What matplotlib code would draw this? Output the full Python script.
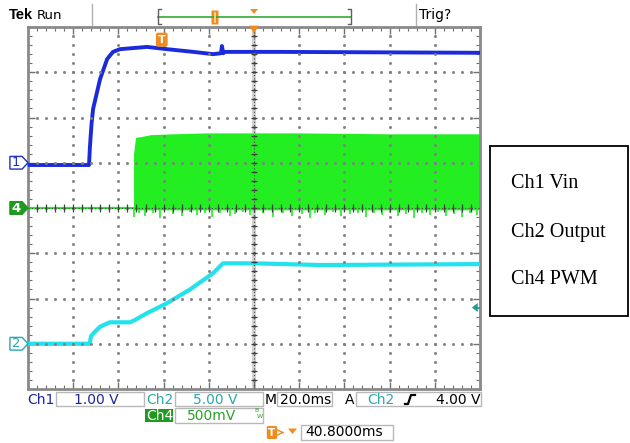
import numpy as np
import matplotlib.pyplot as plt
from matplotlib.patches import Polygon, Rectangle, FancyBboxPatch

# scope setup: 20 ms/div, trigger delay 40.8 ms -> left edge of screen
ms_div = 20.0
t_left = 40.8 - 5 * ms_div
ch1_scale, ch1_pos = 1.0, 5.0
ch2_scale, ch2_pos = 5.0, 1.0
ch4_scale, ch4_pos = 0.5, 4.0
trig_level = 4.0

# Ch1 Vin (V) vs time (ms)
ch1_t = [-59.2, -32.2, -31.8, -31.1, -30.4, -27.3, -24.2, -21.6, -18.5, -6.5, 2.3,
         14.0, 22.7, 26.2, 26.6, 27.2, 28.0, 52.3, 140.8]
ch1_v = [-0.05, -0.05, 0.35, 0.85, 1.19, 1.85, 2.29, 2.45, 2.51, 2.56, 2.51,
         2.45, 2.40, 2.42, 2.58, 2.42, 2.45, 2.45, 2.43]

# Ch2 Output (V)
ch2_t = [-59.2, -31.9, -31.3, -29.6, -27.3, -23.0, -14.1, -11.9, -6.7, 2.2, 12.5,
         22.7, 27.1, 40.4, 70.0, 140.8]
ch2_v = [0.0, 0.0, 0.86, 1.33, 1.88, 2.37, 2.37, 2.62, 3.36, 4.47, 6.0,
         7.8, 8.89, 8.89, 8.70, 8.80]

# Ch4 PWM (V): off before pwm_on, then switching envelope
pwm_on = -12.5
env_t = [-12.5, -11.6, -9.0, -5.0, 5.0, 20.0, 60.0, 100.0, 140.8]
env_hi = [0.60, 0.78, 0.79, 0.81, 0.82, 0.83, 0.83, 0.82, 0.82]
env_lo = -0.02
spike_t = [-12.3, -10.1, -7.4, -3.9, -0.8, 5.0, 8.9, 12.5, 15.6, 19.1, 22.2, 25.8,
           30.2, 32.4, 35.9, 39.0, 44.8, 49.2, 53.6, 57.6, 62.0, 65.6, 67.8, 72.2,
           75.8, 79.3, 83.3, 86.8, 90.4, 93.9, 97.4, 101.0, 104.5, 108.1, 111.6,
           115.1, 118.7, 122.2, 125.7, 129.3, 132.8, 136.4, 139.5]
spike_v = [-0.10, -0.06, -0.09, -0.05, -0.11, -0.07, -0.09, -0.04, -0.08, -0.06, -0.10, -0.05,
           -0.09, -0.07, -0.04, -0.08, -0.06, -0.10, -0.05, -0.09, -0.07, -0.11, -0.06, -0.08,
           -0.04, -0.09, -0.07, -0.05, -0.10, -0.06, -0.08, -0.05, -0.09, -0.07, -0.11,
           -0.06, -0.08, -0.04, -0.09, -0.07, -0.10, -0.05, -0.08]

C1 = '#1b2bdc'
C2 = '#22e2ee'
C4 = '#22ee22'
TEAL = '#2aa8b0'
NAVY = '#1c24a0'
DKGREEN = '#1f9a1f'
ORANGE = '#f08c1e'


def tx(t):
    return (np.asarray(t, dtype=float) - t_left) / ms_div


def ty(v, scale, pos):
    return np.asarray(v, dtype=float) / scale + pos


fig = plt.figure(figsize=(6.3, 4.43), dpi=100)
ax = fig.add_axes([28 / 630, 54 / 443, 452 / 630, 362 / 443])
ax.set_xlim(0, 10)
ax.set_ylim(0, 8)

# traces
ax.plot(tx([t_left, pwm_on]), ty([0, 0], ch4_scale, ch4_pos), color=C4, lw=1.6, zorder=2)
ax.fill_between(tx(env_t), ty(env_lo, ch4_scale, ch4_pos), ty(env_hi, ch4_scale, ch4_pos),
                color=C4, lw=0, zorder=2)
ax.vlines(tx(spike_t), ty(spike_v, ch4_scale, ch4_pos), ty(0, ch4_scale, ch4_pos),
          color=C4, lw=1.2, zorder=2)
ax.plot(tx(ch2_t), ty(ch2_v, ch2_scale, ch2_pos), color=C2, lw=3.0, zorder=3)
ax.plot(tx(ch1_t), ty(ch1_v, ch1_scale, ch1_pos), color=C1, lw=2.8, zorder=3)

# graticule
ax.set_xticks(range(11))
ax.set_xticks(np.arange(0, 10.01, 0.2), minor=True)
ax.set_yticks(range(9))
ax.set_yticks(np.arange(0, 8.01, 0.2), minor=True)
ax.tick_params(which='both', direction='in', top=True, right=True, color='#707070',
               labelbottom=False, labelleft=False)
ax.tick_params(which='major', length=5, width=1)
ax.tick_params(which='minor', length=3, width=0.8)
for s in ax.spines.values():
    s.set_color('#8a8a8a')
    s.set_linewidth(2)

ax.axvline(5, color='#d2d2d2', lw=3, zorder=1)
for gx in range(1, 10):
    yy = np.arange(0.2, 8, 0.2)
    ax.plot(np.full(len(yy), gx), yy, ls='none', marker='s', ms=1, color='#808080', zorder=5)
for gy in range(1, 8):
    xx = np.arange(0.2, 10, 0.2)
    ax.plot(xx, np.full(len(xx), gy), ls='none', marker='s', ms=1, color='#808080', zorder=5)
ax.axvline(5, color='#404040', lw=0.8, ls=(0, (1, 2)), zorder=5)
ax.axhline(4, color='#404040', lw=0.8, ls=(0, (1, 2)), zorder=5)
ax.hlines(np.arange(0.2, 8, 0.2), 4.93, 5.07, color='#404040', lw=0.9, zorder=5)
ax.vlines(np.arange(0.2, 10, 0.2), 3.92, 4.08, color='#404040', lw=0.9, zorder=5)


def chan_marker(num, pos, fc, ec, tc, bold=False):
    ax.add_patch(Polygon([(-0.40, pos - 0.14), (-0.13, pos - 0.14), (0, pos),
                          (-0.13, pos + 0.14), (-0.40, pos + 0.14)],
                         closed=True, fc=fc, ec=ec, lw=1, clip_on=False, zorder=6))
    ax.text(-0.27, pos, str(num), color=tc, ha='center', va='center', fontsize=9.5,
            fontweight='bold' if bold else 'normal', clip_on=False, zorder=7)


chan_marker(1, ch1_pos, 'white', '#2030c0', '#2030c0')
chan_marker(4, ch4_pos, DKGREEN, DKGREEN, 'white', bold=True)
chan_marker(2, ch2_pos, 'white', TEAL, TEAL)

# trigger point and level markers
ax.text(tx(0), 7.72, 'T', color='white', fontsize=8, fontweight='bold', ha='center',
        va='center', zorder=7,
        bbox=dict(boxstyle='round,pad=0.18', fc=ORANGE, ec='none'))
ax.add_patch(Polygon([(4.89, 8.03), (5.11, 8.03), (5, 7.86)], closed=True, fc=ORANGE,
                     ec='none', clip_on=False, zorder=7))
ly = ty(trig_level, ch2_scale, ch2_pos)
ax.add_patch(Polygon([(9.82, ly), (9.95, ly + 0.1), (9.95, ly - 0.1)], closed=True,
                     fc='#1e9a9a', ec='none', zorder=7))
ax.plot([9.93, 10.0], [ly, ly], color='#1e9a9a', lw=1.2, zorder=7)

# overlay in pixel coordinates for header, readouts and legend
o = fig.add_axes([0, 0, 1, 1], facecolor='none')
o.set_xlim(0, 630)
o.set_ylim(443, 0)
o.axis('off')

o.text(9, 15, 'Tek', fontsize=10.5, fontweight='bold', family='Liberation Sans', va='center')
o.text(37, 15, 'Run', fontsize=9.5, va='center')
o.text(419, 15, 'Trig?', fontsize=10, va='center')
for sx in (92, 416):
    o.plot([sx, sx], [4, 25], color='#b0b0b0', lw=1)
o.plot([158, 351], [17, 17], color='#33aa33', lw=1.2)
o.plot([161, 158, 158, 161], [9, 9, 24, 24], color='#606060', lw=1)
o.plot([348, 351, 351, 348], [9, 9, 24, 24], color='#606060', lw=1)
o.add_patch(FancyBboxPatch((212, 11), 6, 13, boxstyle='round,pad=0.5', fc=ORANGE, ec='none'))
o.plot([215, 215], [13, 22], color='#ffd9a8', lw=1.2)
o.add_patch(Polygon([(250, 9), (258, 9), (254, 14)], closed=True, fc=ORANGE, ec='none'))

# readout boxes
for bx, by, bw, bh in [(56, 392, 88, 14), (175, 392, 88, 14), (277, 392, 55, 14),
                       (356, 392, 125, 14), (175, 408, 88, 15), (301, 425, 92, 15)]:
    o.add_patch(Rectangle((bx, by), bw, bh, fc='white', ec='#b8b8b8', lw=1))
o.add_patch(Rectangle((145, 409), 28, 13, fc=DKGREEN, ec='none'))

r1 = 399.5
o.text(27, r1, 'Ch1', color=NAVY, fontsize=10, va='center')
o.text(96, r1, '1.00 V', color=NAVY, fontsize=10, va='center', ha='center')
o.text(146, r1, 'Ch2', color=TEAL, fontsize=10, va='center')
o.text(215, r1, '5.00 V', color=TEAL, fontsize=10, va='center', ha='center')
o.text(265, r1, 'M', color='black', fontsize=10, va='center')
o.text(280, r1, '20.0ms', color='black', fontsize=10, va='center')
o.text(345, r1, 'A', color='black', fontsize=10, va='center')
o.text(367, r1, 'Ch2', color=TEAL, fontsize=10, va='center')
o.plot([405, 408, 411, 415], [404, 404, 395, 395], color='black', lw=1.6)
o.text(480, r1, '4.00 V', color='black', fontsize=10, va='center', ha='right')

r2 = 415.5
o.text(146, r2, 'Ch4', color='white', fontsize=10, va='center')
o.text(212, r2, '500mV', color='#28a028', fontsize=10, va='center', ha='center')
o.text(254, 411, 'B', color='#28a028', fontsize=4.5, va='center')
o.text(257, 416, 'W', color='#28a028', fontsize=4.5, va='center')

r3 = 432.5
o.text(272, r3, 'T', color='white', fontsize=7.5, fontweight='bold', ha='center', va='center',
       bbox=dict(boxstyle='round,pad=0.15', fc=ORANGE, ec='none'))
o.annotate('', xy=(287, r3), xytext=(279, r3),
           arrowprops=dict(arrowstyle='->', color=ORANGE, lw=1))
o.add_patch(Polygon([(288, 428.5), (297, 428.5), (292.5, 434)], closed=True, fc=ORANGE, ec='none'))
o.text(305, r3, '40.8000ms', color='black', fontsize=10, va='center')

# legend box
o.add_patch(Rectangle((490, 146), 138, 170, fc='white', ec='black', lw=1.3))
for ly_px, lab in [(183, 'Ch1 Vin'), (232, 'Ch2 Output'), (279, 'Ch4 PWM')]:
    o.text(511, ly_px, lab, fontsize=14.5, family='Liberation Serif', va='center')

fig.savefig('out.png', dpi=100)
